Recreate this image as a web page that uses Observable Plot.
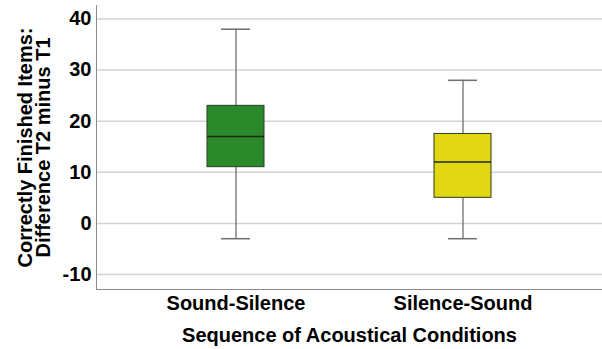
<!DOCTYPE html>
<html>
<head>
<meta charset="utf-8">
<script src="https://cdn.jsdelivr.net/npm/d3@7"></script>
<script src="https://cdn.jsdelivr.net/npm/@observablehq/plot@0.6"></script>
<style>
  body { margin: 0; background: #fff; }
  svg { font-family: "Liberation Sans", Arial, sans-serif; }
</style>
</head>
<body>
<div id="chart"></div>
<script>
const groups = ["Sound-Silence", "Silence-Sound"];
const whiskerLow = [-3, -3];
const q1 = [11, 5];
const median = [17, 12];
const q3 = [23, 17.5];
const whiskerHigh = [38, 28];
const fills = ["#2a8a2b", "#e1d712"];
const yTicks = [-10, 0, 10, 20, 30, 40];

const data = groups.map((g, i) => ({
  group: g, lo: whiskerLow[i], q1: q1[i], med: median[i], q3: q3[i], hi: whiskerHigh[i], fill: fills[i]
}));

const chart = Plot.plot({
  width: 602,
  height: 349,
  marginLeft: 96,
  marginRight: 0,
  marginTop: 5,
  marginBottom: 60,
  style: { fontFamily: "Liberation Sans, Arial, sans-serif", fontWeight: "bold", fontSize: "20px", color: "#000", background: "#fff" },
  x: { type: "band", domain: groups, paddingInner: 0.749, paddingOuter: 0.489, label: null },
  y: { domain: [-12.94, 42.64], label: null },
  marks: [
    Plot.ruleY(yTicks, { stroke: "#d4d4d4", strokeWidth: 1.5 }),
    Plot.axisY(yTicks, { tickSize: 0, tickPadding: 5, fontSize: 20, fontWeight: "bold", label: null, tickFormat: d => String(d) }),
    Plot.axisX({ tickSize: 0, tickPadding: 6, fontSize: 20, fontWeight: "bold", label: null }),
    Plot.ruleX(data, { x: "group", y1: "lo", y2: "hi", stroke: "#6e6e6e", strokeWidth: 1.3 }),
    Plot.tickY(data, { x: "group", y: "lo", stroke: "#6e6e6e", strokeWidth: 1.5, insetLeft: 14, insetRight: 14 }),
    Plot.tickY(data, { x: "group", y: "hi", stroke: "#6e6e6e", strokeWidth: 1.5, insetLeft: 14, insetRight: 14 }),
    Plot.barY(data, { x: "group", y1: "q1", y2: "q3", fill: "fill", stroke: "#2f3a22", strokeWidth: 1 }),
    Plot.tickY(data, { x: "group", y: "med", stroke: "#1c2a14", strokeWidth: 1.5 }),
    Plot.frame({ anchor: "left", stroke: "#8a8a8a" }),
    Plot.frame({ anchor: "bottom", stroke: "#8a8a8a" }),
    Plot.text(["Correctly Finished Items:\nDifference T2 minus T1"], {
      frameAnchor: "left", dx: -61, rotate: -90, textAnchor: "middle", lineAnchor: "middle",
      fontSize: 20, fontWeight: "bold", fill: "#000", lineHeight: 0.9
    }),
    Plot.text(["Sequence of Acoustical Conditions"], {
      frameAnchor: "bottom", dy: 46, textAnchor: "middle", lineAnchor: "middle",
      fontSize: 20, fontWeight: "bold", fill: "#000"
    })
  ]
});
document.getElementById("chart").appendChild(chart);
</script>
</body>
</html>
